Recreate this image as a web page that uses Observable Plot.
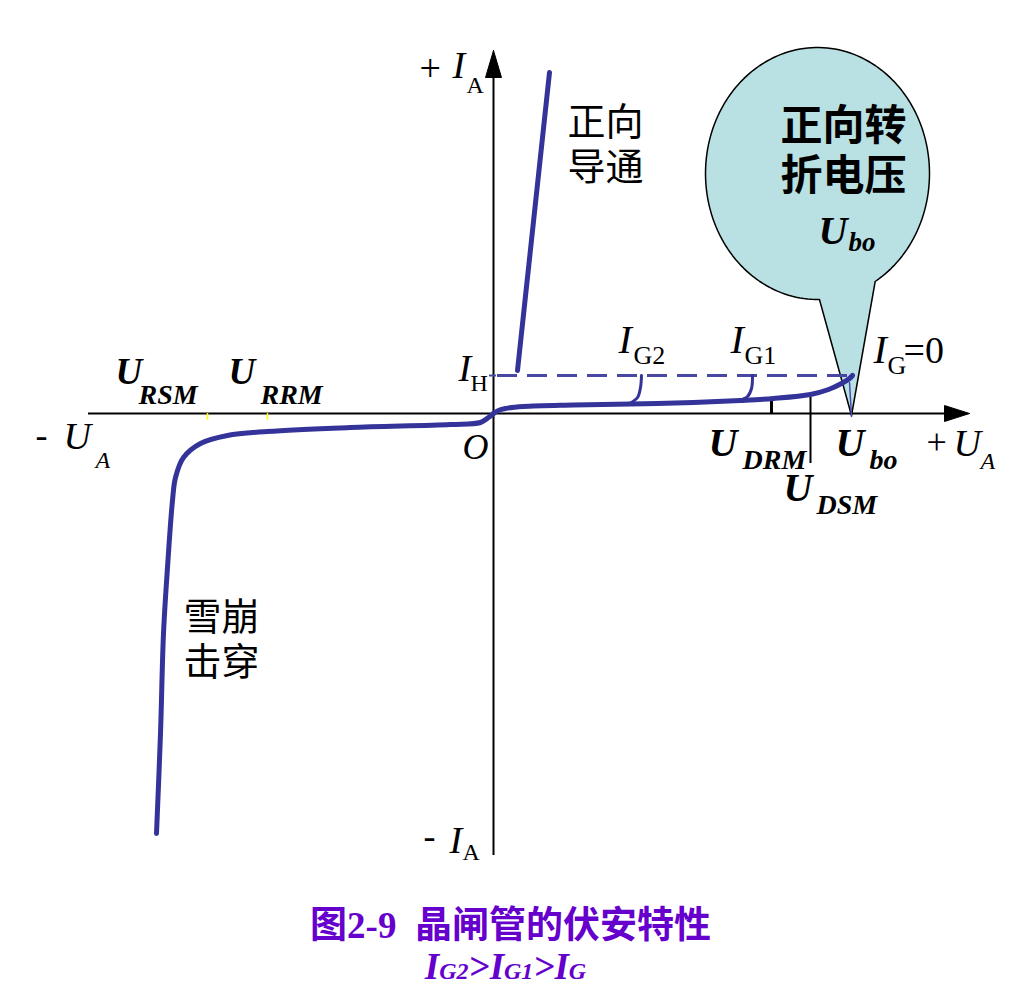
<!DOCTYPE html>
<html><head><meta charset="utf-8">
<script src="https://cdn.jsdelivr.net/npm/d3@7"></script>
<script src="https://cdn.jsdelivr.net/npm/@observablehq/plot@0.6"></script>
<style>
body{margin:0;background:#fff;}
#wrap{position:relative;width:1011px;height:1000px;}
.cap{position:absolute;left:0;width:1011px;text-align:center;color:#6600cc;font-family:"Liberation Serif","Noto Sans CJK SC",serif;font-weight:bold;white-space:pre;}
</style></head><body>
<div id="wrap"><div id="chart"></div>
<div class="cap" id="cap1" style="top:907px;left:5px;font-size:37px;line-height:37px;">图2-9  晶闸管的伏安特性</div>
<div class="cap" id="cap2" style="top:948px;font-size:37px;line-height:37px;font-style:italic;">I<span style="font-size:24px">G2</span>&gt;I<span style="font-size:24px">G1</span>&gt;I<span style="font-size:24px">G</span></div>
</div>
<script>
// ---- data (U: anode voltage units, I: anode current units) ----
const forwardConduction = [{u:24,i:43},{u:56,i:341}];
const holdingCurrent = 38;                       // I_H
const forwardBlocking = [                         // I_G = 0
  {u:0,i:0},{u:5,i:3},{u:12,i:5},{u:30,i:7},{u:80,i:8.5},{u:137,i:9.5},
  {u:200,i:11},{u:247,i:13},{u:280,i:15},{u:317,i:19},{u:335,i:24},
  {u:348,i:30},{u:356,i:35},{u:359,i:38}];
const gateIG2 = [{u:148,i:38},{u:147,i:26},{u:144,i:16},{u:136,i:10}];
const gateIG1 = [{u:259,i:38},{u:258,i:25},{u:254,i:17},{u:245,i:13}];
const reverseCurve = [
  {u:0,i:0},{u:-5,i:-4},{u:-13,i:-9},{u:-43,i:-11},{u:-143,i:-14},
  {u:-226,i:-18},{u:-266,i:-22},{u:-293,i:-30},{u:-310,i:-44},
  {u:-318,i:-64},{u:-321,i:-87},{u:-326,i:-154},{u:-330,i:-220},
  {u:-333,i:-320},{u:-337,i:-420}];
const uBO = 359, uDRM = 278, uDSM = 317, uRRM = -226, uRSM = -286;
const axisU = [-405, 476];   // horizontal axis extent
const axisI = [-442, 363];   // vertical axis extent

// ---- layout ----
const W = 1011, H = 895;
const serif = "Liberation Serif, Times New Roman, serif";
const cjk = "Noto Sans CJK SC, sans-serif";
const blue = "#333399";

function txt(t, u, i, o = {}) {
  return Plot.text([{u, i, t}], {x: "u", y: "i", text: "t", textAnchor: "start",
    lineAnchor: "bottom", fill: "black", fontFamily: serif, fontSize: 34, ...o});
}
function sub(main, s, u, i, o = {}, so = {}, dx = 0, dy = 0) {
  return [txt(main, u, i, o), txt(s, u + dx, i - dy, {...o, fontSize: 24, ...so})];
}

// callout shape (ellipse + tail) built from its geometry
const co = {cx: 324, cy: 240, rx: 112, ry: 126, a0: 59, a1: 87.5, tipU: uBO - 1, tipI: -2};
const callout = [];
for (let a = co.a0; a >= co.a1 - 360; a -= 2) {
  const r = a * Math.PI / 180;
  callout.push({u: co.cx + co.rx * Math.cos(r), i: co.cy - co.ry * Math.sin(r)});
}
callout.push({u: co.tipU, i: co.tipI});
callout.push(callout[0]);

const upHead = [{u:0,i:axisI[1]},{u:-8,i:axisI[1]-27},{u:8,i:axisI[1]-27},{u:0,i:axisI[1]}];
const rightHead = [{u:axisU[1],i:0},{u:axisU[1]-25,i:8},{u:axisU[1]-25,i:-8},{u:axisU[1],i:0}];

const bold = {fontWeight: "bold", fontStyle: "italic"};
const it = {fontStyle: "italic"};
const up = {fontStyle: "normal"};

const chart = Plot.plot({
  width: W, height: H, margin: 0,
  x: {domain: [-493, 518], range: [0, W], axis: null},
  y: {domain: [413 - H, 413], range: [H, 0], axis: null},
  style: {background: "white"},
  marks: [
    // callout
    Plot.line(callout, {x: "u", y: "i", fill: "#b9e0e3", stroke: "black", strokeWidth: 1.5, curve: "linear"}),
    // axes
    Plot.ruleY([0], {x1: axisU[0], x2: axisU[1] - 20, stroke: "black", strokeWidth: 2}),
    Plot.ruleX([0], {y1: axisI[0], y2: axisI[1] - 20, stroke: "black", strokeWidth: 2}),
    Plot.line(upHead, {x: "u", y: "i", fill: "black", stroke: "black", strokeWidth: 1}),
    Plot.line(rightHead, {x: "u", y: "i", fill: "black", stroke: "black", strokeWidth: 1}),
    // holding current
    Plot.ruleY([holdingCurrent], {x1: 4, x2: uBO - 4, stroke: "#4848a2", strokeWidth: 3, strokeDasharray: "20,10"}),
    Plot.ruleY([holdingCurrent], {x1: -4, x2: 3, stroke: "#4848a2", strokeWidth: 2}),
    // voltage markers
    Plot.ruleX([uDRM], {y1: 0, y2: 16, stroke: "black", strokeWidth: 3}),
    Plot.ruleX([uDSM], {y1: -50, y2: 16, stroke: "black", strokeWidth: 2}),
    Plot.ruleX([uRRM, uRSM], {y1: -7, y2: 0, stroke: "#ffff00", strokeWidth: 1.5}),
    Plot.line([{u: uBO - 3, i: 31}, {u: uBO - 1, i: -3}], {x: "u", y: "i", stroke: "#4a4ab0", strokeWidth: 1.5}),
    // curves
    Plot.line(reverseCurve, {x: "u", y: "i", stroke: blue, strokeWidth: 5, curve: "catmull-rom"}),
    Plot.line(forwardBlocking, {x: "u", y: "i", stroke: blue, strokeWidth: 5, curve: "catmull-rom"}),
    Plot.line(gateIG2, {x: "u", y: "i", stroke: blue, strokeWidth: 3, curve: "catmull-rom"}),
    Plot.line(gateIG1, {x: "u", y: "i", stroke: blue, strokeWidth: 3, curve: "catmull-rom"}),
    Plot.line(forwardConduction, {x: "u", y: "i", stroke: blue, strokeWidth: 5}),
    // axis labels
    txt("+", -74, 333, {fontSize: 38}),
    ...sub("I", "A", -41, 336, {...it, fontSize: 38}, up, 14, 15),
    txt("-", -70, -434, {fontSize: 36}),
    ...sub("I", "A", -44, -439, {...it, fontSize: 38}, up, 13, 7),
    txt("-", -458, -33, {fontSize: 36}),
    ...sub("U", "A", -430, -35, {...it, fontSize: 38}, {}, 32, 19),
    txt("+", 433, -40, {fontSize: 36}),
    ...sub("U", "A", 460, -42, {...it, fontSize: 38}, {}, 27, 13),
    txt("O", -31, -45, {...it, fontSize: 36}),
    // voltage labels
    ...sub("U", "RSM", -378, 30, {...bold, fontSize: 37}, {fontSize: 28}, 23, 20),
    ...sub("U", "RRM", -265, 30, {...bold, fontSize: 37}, {fontSize: 28}, 32, 20),
    ...sub("U", "DRM", 215, -42, {...bold, fontSize: 40}, {fontSize: 28}, 34, 13),
    ...sub("U", "DSM", 290, -87, {...bold, fontSize: 40}, {fontSize: 28}, 33, 13),
    ...sub("U", "bo", 342, -42, {...bold, fontSize: 40}, {fontSize: 28}, 34, 13),
    // current labels
    ...sub("I", "H", -35, 33, {...it, fontSize: 38}, up, 12, 10),
    ...sub("I", "G2", 125, 61, {...it, fontSize: 40}, {...up, fontSize: 26}, 15, 11),
    ...sub("I", "G1", 237, 61, {...it, fontSize: 40}, {...up, fontSize: 26}, 14, 11),
    ...sub("I", "G", 380, 51, {...it, fontSize: 40}, {...up, fontSize: 26}, 14, 11),
    txt("=0", 410, 51, {fontSize: 38}),
    // region labels
    txt("正向\n导通", 74, 234, {fontFamily: cjk, fontSize: 38, lineHeight: 1.18}),
    txt("雪崩\n击穿", -310, -261, {fontFamily: cjk, fontSize: 38, lineHeight: 1.16}),
    txt("正向转\n折电压", 287, 224, {fontFamily: cjk, fontSize: 42, fontWeight: "bold", lineHeight: 1.19}),
    ...sub("U", "bo", 325, 170, {...bold, fontSize: 40}, {fontSize: 27}, 30, 7)
  ]
});
document.getElementById("chart").appendChild(chart);
</script>
</body></html>
